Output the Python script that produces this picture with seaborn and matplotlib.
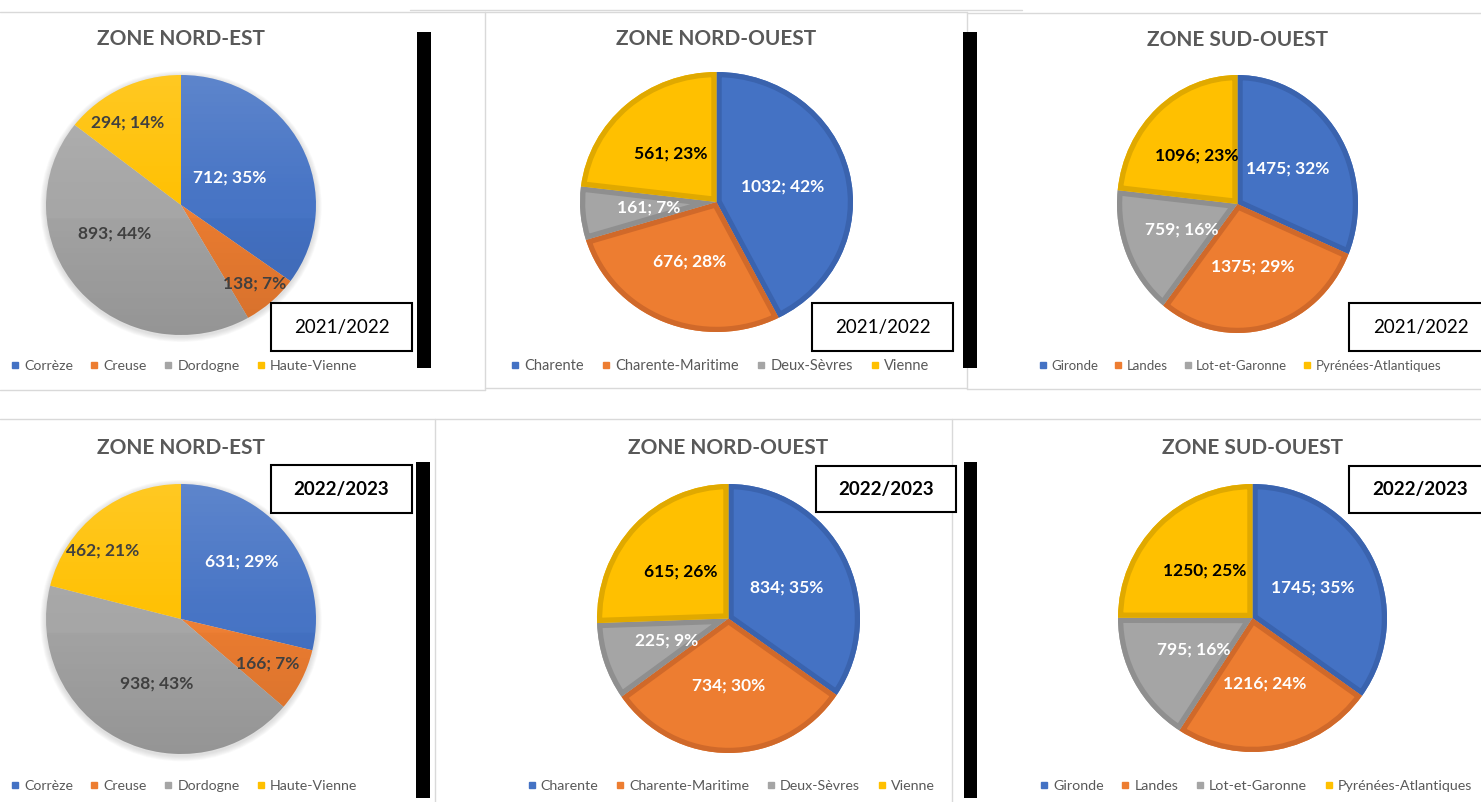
import numpy as np
import matplotlib
matplotlib.use("Agg")
import matplotlib.pyplot as plt
import seaborn as sns
from matplotlib.patches import Rectangle, Circle, Wedge, PathPatch
from matplotlib.lines import Line2D

sns.set_theme(style="white")
plt.rcParams['font.family'] = ['Lato', 'DejaVu Sans']

# ---------------- data ----------------
titles = ["ZONE NORD-EST", "ZONE NORD-OUEST", "ZONE SUD-OUEST"]
seasons = ["2021/2022", "2022/2023"]

ne_departements = ["Corrèze", "Creuse", "Dordogne", "Haute-Vienne"]
no_departements = ["Charente", "Charente-Maritime", "Deux-Sèvres", "Vienne"]
so_departements = ["Gironde", "Landes", "Lot-et-Garonne", "Pyrénées-Atlantiques"]

ne_2021_values = [712, 138, 893, 294]
ne_2021_pct = [35, 7, 44, 14]
no_2021_values = [1032, 676, 161, 561]
no_2021_pct = [42, 28, 7, 23]
so_2021_values = [1475, 1375, 759, 1096]
so_2021_pct = [32, 29, 16, 23]

ne_2022_values = [631, 166, 938, 462]
ne_2022_pct = [29, 7, 43, 21]
no_2022_values = [834, 734, 225, 615]
no_2022_pct = [35, 30, 9, 26]
so_2022_values = [1745, 1216, 795, 1250]
so_2022_pct = [35, 24, 16, 25]

# ---------------- style ----------------
palette = sns.color_palette(["#4472C4", "#ED7D31", "#A5A5A5", "#FFC000"])
edge_palette = ["#3A63AE", "#D0692A", "#8F8F8F", "#E0A900"]
ne_text_colors = ["white", "#404040", "#404040", "#404040"]
std_text_colors = ["white", "white", "white", "black"]

W, H = 1481, 802
fig = plt.figure(figsize=(W / 100, H / 100), dpi=100)
fig.patch.set_facecolor("white")


def fx(x):
    return x / W


def fy(y):
    return 1 - y / H


def hline(x0, x1, y, color="#d9d9d9", lw=1.0):
    fig.add_artist(Line2D([fx(x0), fx(x1)], [fy(y), fy(y)], transform=fig.transFigure,
                          color=color, lw=lw, zorder=0))


def vline(x, y0, y1, color="#d9d9d9", lw=1.0):
    fig.add_artist(Line2D([fx(x), fx(x)], [fy(y0), fy(y1)], transform=fig.transFigure,
                          color=color, lw=lw, zorder=0))


# panel frames (screenshot borders)
hline(410, 1022, 10)
hline(0, 485, 12)
vline(485, 12, 390)
hline(0, 485, 390)
hline(485, 967, 12)
hline(485, 967, 388)
vline(967, 12, 389)
hline(967, 1481, 13)
hline(967, 1481, 389)
hline(0, 1481, 419)
vline(435, 419, 802)
vline(952, 419, 802)

# black separator bars
for (x0, y0, x1, y1) in [(417, 32, 431, 368), (963, 32, 977, 368),
                         (416, 462, 430, 798), (964, 462, 977, 798)]:
    fig.add_artist(Rectangle((fx(x0), fy(y1)), fx(x1) - fx(x0), fy(y0) - fy(y1),
                             transform=fig.transFigure, facecolor="black",
                             edgecolor="none", zorder=1))

panels = [
    dict(title=titles[0], cats=ne_departements, values=ne_2021_values, pct=ne_2021_pct,
         season=0, style="ne", pie=(46, 75, 316, 335), title_y=39, legend=(184, 366),
         legend_fs=10.2, box=(271, 303, 412, 351),
         fracs=[0.42, 0.81, 0.54, 0.75], shifts=[3, 0, -17, 6]),
    dict(title=titles[1], cats=no_departements, values=no_2021_values, pct=no_2021_pct,
         season=0, style="std", pie=(580, 72, 853, 332), title_y=39, legend=(720, 366),
         legend_fs=10.5, box=(812, 303, 953, 351), fracs=[0.5] * 4, shifts=[0] * 4),
    dict(title=titles[2], cats=so_departements, values=so_2021_values, pct=so_2021_pct,
         season=0, style="std", pie=(1117, 75, 1358, 333), title_y=40, legend=(1240, 366),
         legend_fs=9.5, box=(1349, 303, 1492, 351), fracs=[0.5] * 4, shifts=[0] * 4),
    dict(title=titles[0], cats=ne_departements, values=ne_2022_values, pct=ne_2022_pct,
         season=1, style="ne", pie=(46, 484, 316, 754), title_y=448, legend=(184, 786),
         legend_fs=10.2, box=(271, 465, 412, 513),
         fracs=[0.62, 0.72, 0.51, 0.77], shifts=[5, 0, 7, 11]),
    dict(title=titles[1], cats=no_departements, values=no_2022_values, pct=no_2022_pct,
         season=1, style="std", pie=(597, 484, 860, 753), title_y=448, legend=(731, 786),
         legend_fs=10.3, box=(816, 466, 956, 512), fracs=[0.5] * 4, shifts=[0] * 4),
    dict(title=titles[2], cats=so_departements, values=so_2022_values, pct=so_2022_pct,
         season=1, style="std", pie=(1118, 484, 1387, 752), title_y=448, legend=(1256, 786),
         legend_fs=10.3, box=(1349, 466, 1492, 513), fracs=[0.5] * 4, shifts=[0] * 4),
]

for p in panels:
    x0, y0, x1, y1 = p["pie"]
    ax = fig.add_axes([fx(x0), fy(y1), fx(x1) - fx(x0), fy(y0) - fy(y1)])
    ax.patch.set_alpha(0)
    wedges, _ = ax.pie(p["values"], colors=palette, startangle=90, counterclock=False,
                       radius=1.0, wedgeprops=dict(edgecolor="none", linewidth=0))
    if p["style"] == "std":
        # inner darker border on each slice (outline clipped to the slice itself)
        for w, ec in zip(wedges, edge_palette):
            clipper = Wedge(w.center, w.r, w.theta1, w.theta2, transform=ax.transData)
            outline = PathPatch(w.get_path(), transform=ax.transData, facecolor="none",
                                edgecolor=ec, linewidth=7.5, zorder=2)
            ax.add_patch(outline)
            outline.set_clip_on(True)
            outline.set_clip_path(clipper)
        txt_colors = std_text_colors
    else:
        # soft shadow halo
        for k in range(1, 7):
            ax.add_patch(Circle((0.0, -0.012), 1.0 + 0.007 * k, facecolor="#808080",
                                edgecolor="none", alpha=0.045, zorder=0.5,
                                clip_on=False))
        for w in wedges:
            w.set_zorder(1)
        # vertical light/dark gradient like the Excel shading
        n = 256
        grad = np.zeros((n, 1, 4))
        t = np.linspace(0, 1, n)
        light = np.clip(0.14 * (1 - t / 0.55), 0, None)
        dark = np.clip(0.10 * (t - 0.45) / 0.55, 0, None)
        grad[:, 0, :3] = np.where(light[:, None] > 0, 1.0, 0.0)
        grad[:, 0, 3] = light + dark
        im = ax.imshow(grad, extent=(-1, 1, -1, 1), aspect="auto", zorder=2,
                       interpolation="bilinear")
        circ = Circle((0, 0), 1.0, transform=ax.transData)
        im.set_clip_path(circ)
        txt_colors = ne_text_colors
    ax.set_aspect("auto")
    ax.set_xlim(-1, 1)
    ax.set_ylim(-1, 1)
    ax.axis("off")

    for w, v, pc, fr, sh, tc in zip(wedges, p["values"], p["pct"], p["fracs"],
                                    p["shifts"], txt_colors):
        ang = np.deg2rad((w.theta1 + w.theta2) / 2 + sh)
        ax.text(fr * np.cos(ang), fr * np.sin(ang), f"{v}; {pc}%", ha="center",
                va="center", color=tc, fontsize=12.5, fontweight="bold", zorder=5)

    cx = (x0 + x1) / 2
    fig.text(fx(cx), fy(p["title_y"]), p["title"], ha="center", va="center",
             fontsize=15, fontweight="bold", color="#595959")

    handles = [Line2D([], [], marker="s", ls="none", color=c, markersize=5)
               for c in palette]
    fig.legend(handles, p["cats"], loc="center",
               bbox_to_anchor=(fx(p["legend"][0]), fy(p["legend"][1])), ncol=4,
               frameon=False, fontsize=p["legend_fs"], labelcolor="#595959",
               handlelength=0.6, handletextpad=0.35, columnspacing=1.2, borderpad=0,
               borderaxespad=0)

    bx0, by0, bx1, by1 = p["box"]
    fig.add_artist(Rectangle((fx(bx0), fy(by1)), fx(bx1) - fx(bx0), fy(by0) - fy(by1),
                             transform=fig.transFigure, facecolor="white",
                             edgecolor="black", lw=1.5, zorder=3))
    fig.text(fx((bx0 + bx1) / 2), fy((by0 + by1) / 2), seasons[p["season"]],
             ha="center", va="center", fontsize=13.5, color="black",
             fontweight="bold" if p["season"] == 1 else "normal", zorder=4)

fig.savefig("out.png", dpi=100, facecolor="white")
